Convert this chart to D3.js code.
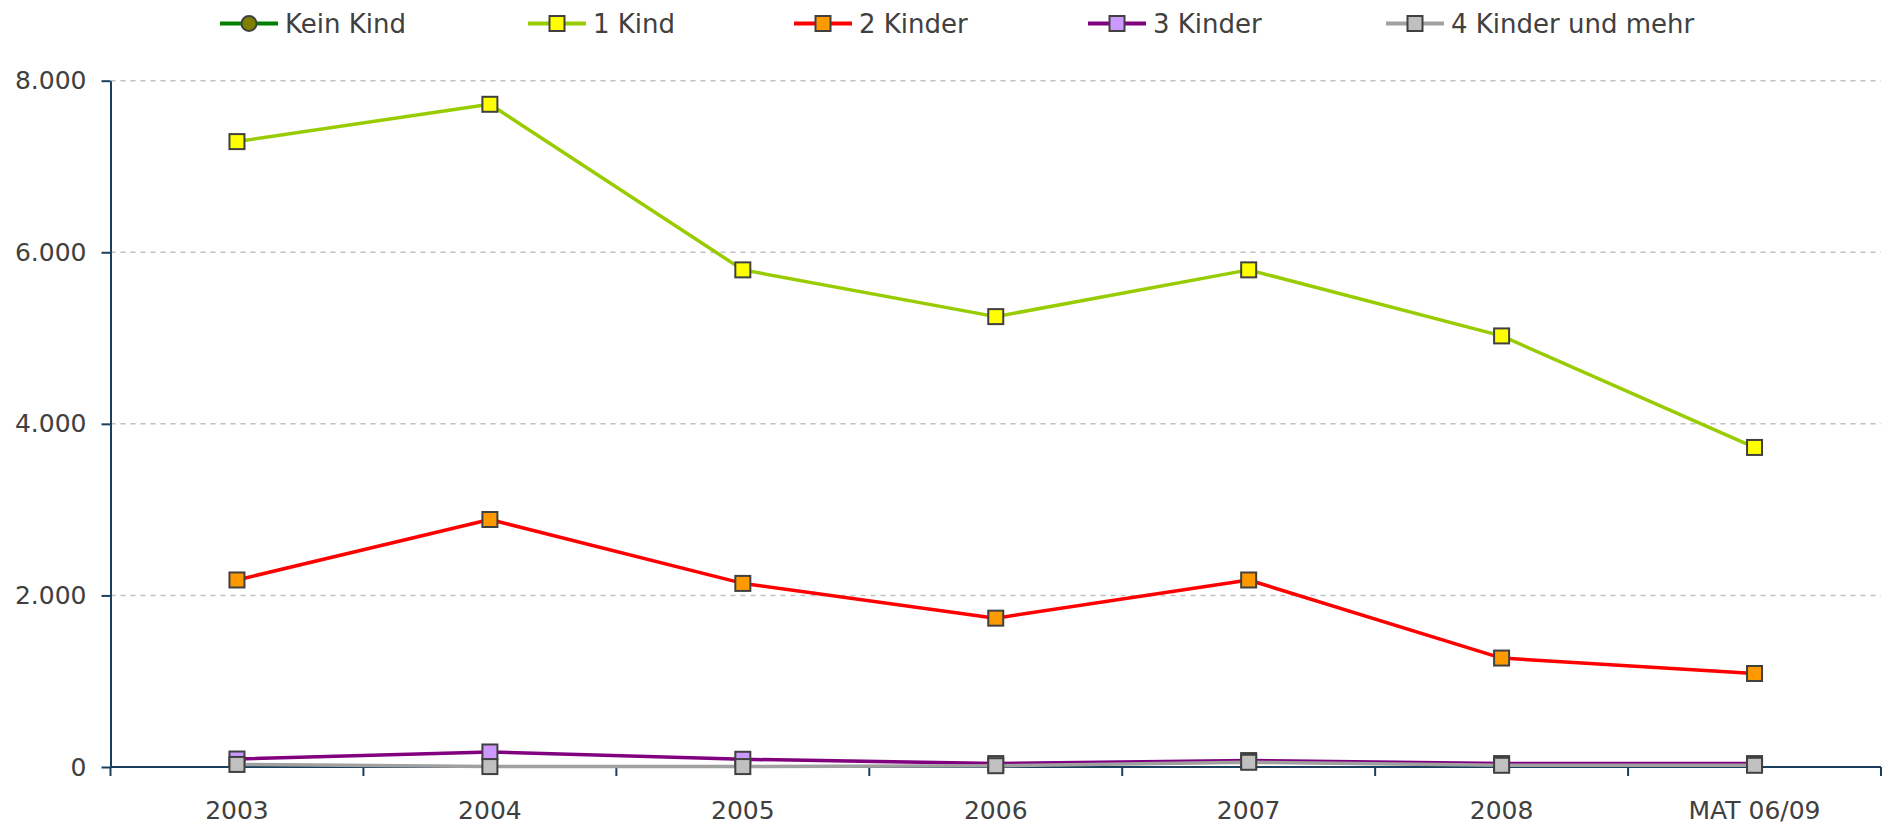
<!DOCTYPE html>
<html><head><meta charset="utf-8">
<script src="https://cdn.jsdelivr.net/npm/d3@7"></script>
<style>
html,body{margin:0;padding:0;background:#fff;}
svg{display:block;font-family:"DejaVu Sans",sans-serif;}
</style></head>
<body><svg id="chart" width="1884" height="825"></svg>
<script>
const categories = ["2003","2004","2005","2006","2007","2008","MAT 06/09"];
const keinKind   = [null,null,null,null,null,null,null];
const einKind    = [7290,7725,5795,5250,5795,5025,3725];
const zweiKinder = [2180,2885,2140,1735,2180,1270,1090];
const dreiKinder = [93,175,90,40,75,40,40];
const vierKinder = [30,5,5,15,55,20,20];
const yTicks = [0,2000,4000,6000,8000];

(function(){
const series = [
  {name:"Kein Kind", values:keinKind, line:"#008000", fill:"#808000", shape:"circle"},
  {name:"1 Kind", values:einKind, line:"#99CC00", fill:"#FFFF00", shape:"square"},
  {name:"2 Kinder", values:zweiKinder, line:"#FF0000", fill:"#FF9900", shape:"square"},
  {name:"3 Kinder", values:dreiKinder, line:"#800080", fill:"#CC99FF", shape:"square"},
  {name:"4 Kinder und mehr", values:vierKinder, line:"#A0A0A0", fill:"#C0C0C0", shape:"square"}
];
const legendX = [220, 528, 794, 1088, 1386];

const svg = d3.select("#chart");
const pLeft = 110.5, pRight = 1881, pTop = 80.7, pBottom = 767;
const textColor = "#404040", axisColor = "#1B3F5C";
const x = d3.scaleBand().domain(categories).range([pLeft,pRight]).padding(0);
const y = d3.scaleLinear().domain([0,8000]).range([pBottom,pTop]);
const fmt = v => d3.format(",")(v).replace(/,/g,".");

// gridlines
svg.append("g").selectAll("line").data(yTicks.filter(t=>t>0)).join("line")
  .attr("x1",pLeft).attr("x2",pRight)
  .attr("y1",d=>y(d)).attr("y2",d=>y(d))
  .attr("stroke","#BFBFBF").attr("stroke-width",1.5).attr("stroke-dasharray","5,5");

// y axis
const yAxis = svg.append("g").attr("transform",`translate(${pLeft},0)`)
  .call(d3.axisLeft(y).tickValues(yTicks).tickFormat(fmt).tickSizeInner(9).tickSizeOuter(0).tickPadding(15));
yAxis.select(".domain").attr("stroke",axisColor).attr("stroke-width",2);
yAxis.selectAll(".tick line").attr("stroke",axisColor).attr("stroke-width",2);
yAxis.selectAll("text").attr("fill",textColor).style("font-size","25px").style("font-family","DejaVu Sans");

// x axis
const xg = svg.append("g");
xg.append("line").attr("x1",pLeft).attr("x2",pRight).attr("y1",y(0)).attr("y2",y(0))
  .attr("stroke",axisColor).attr("stroke-width",2);
const bounds = categories.map(c=>x(c)).concat([x(categories[categories.length-1])+x.bandwidth()]);
xg.selectAll("line.t").data(bounds).join("line").attr("class","t")
  .attr("x1",d=>d).attr("x2",d=>d).attr("y1",y(0)).attr("y2",y(0)+9)
  .attr("stroke",axisColor).attr("stroke-width",2);
xg.selectAll("text").data(categories).join("text")
  .attr("x",d=>x(d)+x.bandwidth()/2).attr("y",819)
  .attr("text-anchor","middle").attr("fill",textColor).style("font-size","25px").text(d=>d);

// series
const msize = 15;
function drawMarker(sel, s){
  if(s.shape==="circle"){
    sel.append("circle").attr("r",msize/2).attr("fill",s.fill).attr("stroke","#404040").attr("stroke-width",2);
  } else {
    sel.append("rect").attr("x",-msize/2).attr("y",-msize/2).attr("width",msize).attr("height",msize)
      .attr("fill",s.fill).attr("stroke","#404040").attr("stroke-width",2);
  }
}
const line = d3.line().defined(d=>d.v!=null).x(d=>x(d.c)+x.bandwidth()/2).y(d=>y(d.v));
series.forEach(s=>{
  const pts = categories.map((c,i)=>({c, v:s.values[i]}));
  const g = svg.append("g");
  g.append("path").datum(pts).attr("d",line).attr("fill","none")
    .attr("stroke",s.line).attr("stroke-width",3.5).attr("stroke-linejoin","round");
  g.selectAll("g.m").data(pts.filter(p=>p.v!=null)).join("g").attr("class","m")
    .attr("transform",d=>`translate(${x(d.c)+x.bandwidth()/2},${y(d.v)})`)
    .each(function(){ drawMarker(d3.select(this), s); });
});

// legend
const lg = svg.append("g");
const ly = 23.5;
series.forEach((s,i)=>{
  const lx = legendX[i];
  const g = lg.append("g");
  g.append("line").attr("x1",lx).attr("x2",lx+58).attr("y1",ly).attr("y2",ly)
    .attr("stroke",s.line).attr("stroke-width",4);
  const mg = g.append("g").attr("transform",`translate(${lx+29},${ly})`);
  drawMarker(mg, s);
  g.append("text").attr("x",lx+65).attr("y",ly).attr("dy","0.36em")
    .attr("fill",textColor).style("font-size","26px").text(s.name);
});
})();
</script></body></html>
